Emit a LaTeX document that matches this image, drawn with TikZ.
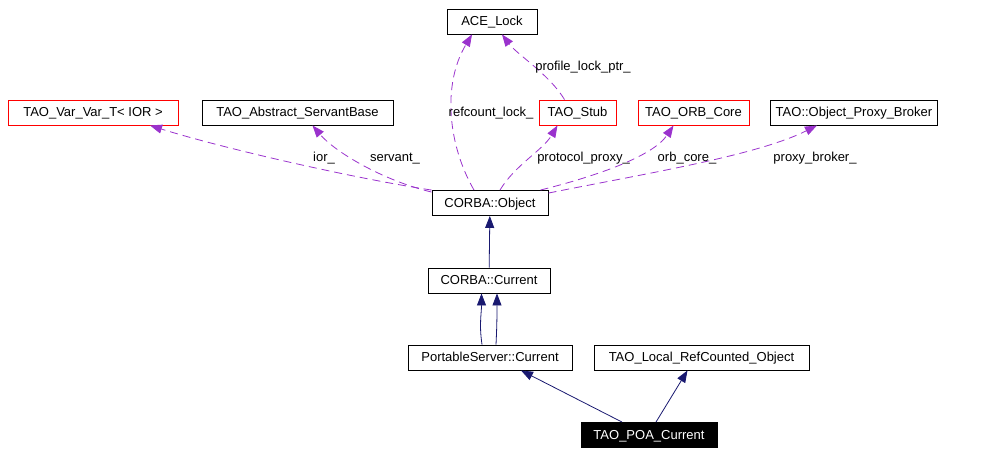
\documentclass[tikz,border=0pt]{standalone}
\usepackage{fontspec}
\setmainfont{Liberation Sans}
\usetikzlibrary{arrows.meta}
\definecolor{usecolor}{RGB}{154,50,205}
\definecolor{inhcolor}{RGB}{25,25,112}
\tikzset{
	block/.style     = {draw, fill=white, rectangle, line width=0.9pt, minimum height=25pt, inner sep=0pt, text height=10pt, text depth=2pt, font=\fontsize{13}{15}\selectfont},
	redblock/.style  = {block, draw=red},
	mainblock/.style = {block, fill=black, text=white},
	edgelabel/.style = {inner sep=0pt, text height=10pt, text depth=2pt, font=\fontsize{13}{15}\selectfont},
	uses/.style      = {->, draw=usecolor, line width=0.8pt, dash pattern=on 8pt off 5pt},
	inherits/.style  = {->, draw=inhcolor, line width=0.8pt},
}

\begin{document}
\begin{tikzpicture}[x=1pt, y=-1pt, >={Triangle[length=12pt,width=9pt]}]
		\useasboundingbox (0,0) rectangle (999,455);

		% Draw the used classes
		\draw
		node[block   , minimum width=90pt ] (acelock) at (492,21.5)  {ACE\_Lock}
		node[redblock, minimum width=170pt] (varvar)  at (93,112.5)  {TAO\_Var\_Var\_T< IOR >}
		node[block   , minimum width=191pt] (servant) at (297.5,112.5) {TAO\_Abstract\_ServantBase}
		node[redblock, minimum width=77pt ] (stub)    at (577.5,112.5) {TAO\_Stub}
		node[redblock, minimum width=111pt] (orbcore) at (693.5,112.5) {TAO\_ORB\_Core}
		node[block   , minimum width=167pt] (broker)  at (854,112.5) {TAO::Object\_Proxy\_Broker};

		% Draw the class hierarchy
		\draw
		node[block    , minimum width=116pt] (object)   at (490,203)   {CORBA::Object}
		node[block    , minimum width=122pt] (current)  at (489,280.5) {CORBA::Current}
		node[block    , minimum width=164pt] (portable) at (490,357.5) {PortableServer::Current}
		node[block    , minimum width=215pt] (local)    at (701.5,357.5) {TAO\_Local\_RefCounted\_Object}
		node[mainblock, minimum width=136pt] (poa)      at (649,435)   {TAO\_POA\_Current};

		% Connect the members
		\draw[uses] ([xshift=-16pt]object.north) .. controls +(-26,-45) and +(-30,50) .. ([xshift=-20pt]acelock.south);
		\draw[uses] ([xshift=-13pt]stub.north) .. controls +(-15,-25) and +(15,20) .. ([xshift=10pt]acelock.south);
		\draw[uses] (object.north west) .. controls +(-80,-12) and +(70,22) .. ([xshift=57pt]varvar.south);
		\draw[uses] ([yshift=-2pt]object.north west) .. controls +(-50,-12) and +(22,26) .. ([xshift=15pt]servant.south);
		\draw[uses] ([xshift=10pt]object.north) .. controls +(15,-25) and +(-15,25) .. ([xshift=-20pt]stub.south);
		\draw[uses] ([xshift=-8pt]object.north east) .. controls +(60,-15) and +(-20,30) .. ([xshift=-20pt]orbcore.south);
		\draw[uses] ([yshift=-3pt]object.north east) .. controls +(100,-20) and +(-60,30) .. ([xshift=-37pt]broker.south);

		% Member names
		\node[edgelabel] (lrefcount) at (491,112)   {refcount\_lock\_};
		\node[edgelabel] (lprofile)  at (583,66)    {profile\_lock\_ptr\_};
		\node[edgelabel] (lior)      at (324,157)   {ior\_};
		\node[edgelabel] (lservant)  at (395,157)   {servant\_};
		\node[edgelabel] (lprotocol) at (583.5,157) {protocol\_proxy\_};
		\node[edgelabel] (lorbcore)  at (687,157)   {orb\_core\_};
		\node[edgelabel] (lbroker)   at (815,157)   {proxy\_broker\_};

		% Connect the bases
		\draw[inherits] (current) -- (object);
		\draw[inherits] ([xshift=-8pt]portable.north) .. controls +(-3,-20) and +(0,20) .. ([xshift=-7.5pt]current.south);
		\draw[inherits] ([xshift=6pt]portable.north) .. controls +(1,-20) and +(0,20) .. ([xshift=8pt]current.south);
		\draw[inherits] ([xshift=-27pt]poa.north) -- ([xshift=31pt]portable.south);
		\draw[inherits] ([xshift=7pt]poa.north) -- ([xshift=-14pt]local.south);
	\end{tikzpicture}
\end{document}
